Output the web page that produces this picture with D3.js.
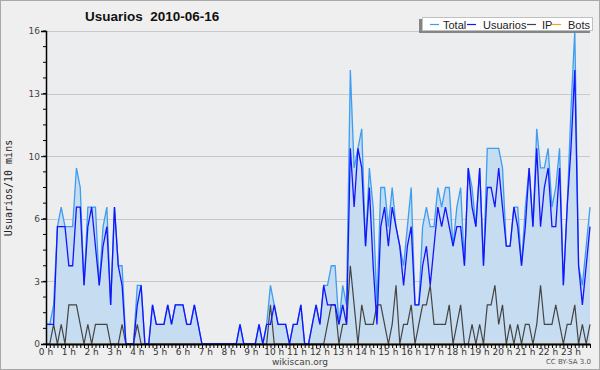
<!DOCTYPE html>
<html>
<head>
<meta charset="utf-8">
<script src="https://cdn.jsdelivr.net/npm/d3@7.9.0/dist/d3.min.js"></script>
<style>
  body { margin: 0; background: #fff; }
  svg { display: block; font-family: "DejaVu Sans", sans-serif; }
</style>
</head>
<body>
<svg id="chart" width="600" height="370"></svg>
<script>
// values per 10-minute slot, 144 slots from 0 h to 23 h 50
const total = [1,1,2,6,7,6,6,6,9,8,3,7,7,7,3,6,7,2,7,4,4,0,0,0,3,3,0,0,2,1,1,1,2,1,2,2,2,1,1,2,1,0,0,0,0,0,0,0,0,0,0,1,0,0,0,0,1,0,1,3,2,1,1,1,0,1,1,2,0,0,1,2,1,3,3,4,4,1,3,2,14,9,10,11,5,9,7,2,8,8,6,8,6,5,4,6,8,2,2,6,7,6,6,8,7,8,8,5,7,8,4,9,8,6,9,4,10,10,10,10,9,5,5,7,7,4,7,9,6,11,9,9,10,7,8,10,3,7,12,16,4,3,5,7];
const usuarios = [1,1,1,6,6,6,4,4,7,7,3,6,7,5,3,5,6,2,7,4,3,0,0,0,2,3,0,0,2,1,1,1,2,1,2,2,2,1,1,2,1,0,0,0,0,0,0,0,0,0,0,1,0,0,0,0,1,0,1,1,2,1,1,1,0,1,1,2,0,0,1,2,1,3,2,2,2,1,2,1,10,7,10,9,5,8,4,1,6,7,5,7,6,5,3,5,6,2,2,4,5,3,5,7,6,7,6,5,6,6,4,9,7,6,9,4,8,8,7,9,7,5,5,7,6,4,6,9,6,10,6,8,9,6,6,9,3,7,10,14,4,2,4,6];
const ip = [0,0,1,0,1,0,2,2,2,1,0,1,0,1,1,1,1,0,0,0,1,0,0,0,1,0,0,0,0,0,0,0,0,0,0,0,0,0,0,0,0,0,0,0,0,0,0,0,0,0,0,0,0,0,0,0,0,0,0,2,0,0,0,0,0,0,0,0,0,0,0,0,0,0,1,2,2,0,1,1,4,2,0,2,1,1,1,2,2,1,0,1,3,0,1,1,2,0,1,2,2,3,1,1,1,1,2,0,1,2,0,0,1,0,1,0,2,2,3,1,2,0,1,0,1,0,1,1,0,1,3,1,1,1,2,1,0,1,1,2,0,1,0,1];
const bots = new Array(144).fill(0);
const hourLabels = d3.range(24).map(h => h + " h");
const yTicks = [0, 3.2, 6.4, 9.6, 12.8, 16];

const svg = d3.select("#chart");
const W = 600, H = 370;

svg.append("rect").attr("x", 0.5).attr("y", 0.5).attr("width", W - 1).attr("height", H - 1)
  .attr("fill", "#efefef").attr("stroke", "#a8a8a8");

const x = d3.scaleLinear().domain([0, 143]).range([46, 590]);
const y = d3.scaleLinear().domain([0, 16]).range([344, 31]);

// plot background
svg.append("rect").attr("x", 46).attr("y", 31).attr("width", 544).attr("height", 313)
  .attr("fill", "#ecedef");

// grid
svg.append("g").selectAll("line").data(yTicks.slice(1)).join("line")
  .attr("x1", 46).attr("x2", 590)
  .attr("y1", d => Math.round(y(d)) + 0.5).attr("y2", d => Math.round(y(d)) + 0.5)
  .attr("stroke", "#c8c9cc");

const idx = d3.range(144);

svg.append("path").datum(idx)
  .attr("fill", "#c6dcf0")
  .attr("d", d3.area().x(i => x(i)).y0(y(0)).y1(i => y(total[i])));

const line = arr => d3.line().x(i => x(i)).y(i => y(arr[i]));

svg.append("path").datum(idx).attr("fill", "none").attr("stroke", "#ffa01e").attr("stroke-width", 1.2).attr("d", line(bots));
svg.append("path").datum(idx).attr("fill", "none").attr("stroke", "#444").attr("stroke-width", 1.2).attr("d", line(ip));
svg.append("path").datum(idx).attr("fill", "none").attr("stroke", "#3d9df0").attr("stroke-width", 1.3).attr("d", line(total));
svg.append("path").datum(idx).attr("fill", "none").attr("stroke", "#1414ff").attr("stroke-width", 1.3).attr("d", line(usuarios));

// y axis
const yAxis = svg.append("g").attr("transform", "translate(46,0)")
  .call(d3.axisLeft(y).tickValues(yTicks).tickFormat(d => Math.round(d)).tickSize(5).tickPadding(1));
yAxis.append("g").selectAll("line").data(d3.range(0, 16.01, 0.8)).join("line")
  .attr("x1", -3).attr("x2", 0).attr("y1", d => y(d)).attr("y2", d => y(d)).attr("stroke", "#000");
yAxis.select(".domain").attr("stroke", "#000").attr("stroke-width", 1.5);
yAxis.selectAll("text").attr("font-size", 9).attr("fill", "#444").attr("font-family", "DejaVu Sans");

// x axis
const xAxis = svg.append("g").attr("transform", "translate(0,344)")
  .call(d3.axisBottom(x).tickValues(idx).tickFormat("").tickSize(4).tickSizeOuter(0));
xAxis.select(".domain").attr("stroke", "#000").attr("stroke-width", 2);
svg.append("g").selectAll("text").data(hourLabels).join("text")
  .attr("x", (d, h) => x(h * 6)).attr("y", 355)
  .attr("text-anchor", "middle").attr("font-size", 9).attr("fill", "#333")
  .text(d => d);

// titles
svg.append("text").attr("x", 85).attr("y", 21).attr("font-family", "Liberation Sans")
  .attr("font-size", 13.5).attr("font-weight", "bold")
  .attr("fill", "#111").attr("xml:space", "preserve").text("Usuarios  2010-06-16");
svg.append("text").attr("transform", "translate(12,188) rotate(-90)").attr("text-anchor", "middle")
  .attr("font-family", "DejaVu Sans Mono").attr("font-size", 10).attr("fill", "#222").text("Usuarios/10 mins");
svg.append("text").attr("x", 300).attr("y", 365).attr("text-anchor", "middle").attr("font-size", 9)
  .attr("fill", "#444").text("wikiscan.org");
svg.append("text").attr("x", 591).attr("y", 364).attr("text-anchor", "end").attr("font-size", 7)
  .attr("fill", "#555").text("CC BY-SA 3.0");

// legend
const legendItems = [
  { name: "Total", color: "#3d9df0", x: 430, tx: 443 },
  { name: "Usuarios", color: "#1414ff", x: 467, tx: 483 },
  { name: "IP", color: "#444", x: 527, tx: 542 },
  { name: "Bots", color: "#ffa01e", x: 552, tx: 568 }
];
const lg = svg.append("g");
lg.append("rect").attr("x", 419).attr("y", 19).attr("width", 171).attr("height", 14).attr("fill", "#858585");
lg.append("rect").attr("x", 422.5).attr("y", 17.5).attr("width", 170).attr("height", 13).attr("fill", "#fff").attr("stroke", "#c0c0c0");
lg.selectAll("line.k").data(legendItems).join("line").attr("class", "k")
  .attr("x1", d => d.x).attr("x2", d => d.x + 9).attr("y1", 24.5).attr("y2", 24.5)
  .attr("stroke", d => d.color).attr("stroke-width", 1.2);
lg.selectAll("text").data(legendItems).join("text")
  .attr("x", d => d.tx).attr("y", 28.5).attr("font-family", "Liberation Sans")
  .attr("font-size", 11).attr("fill", "#222")
  .text(d => d.name);
</script>
</body>
</html>
